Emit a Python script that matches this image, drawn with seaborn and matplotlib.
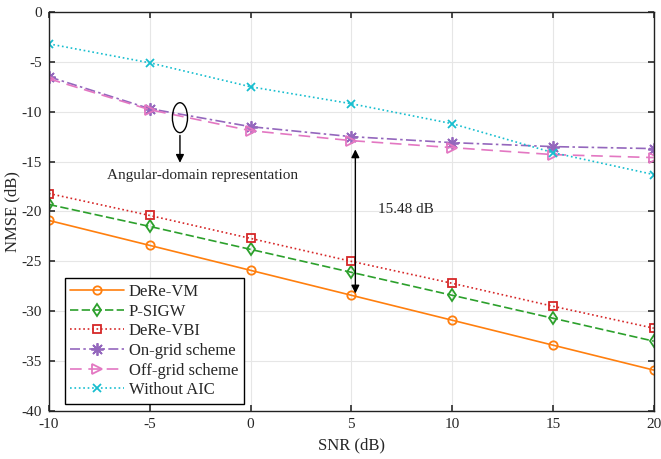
import matplotlib
matplotlib.use("Agg")
import matplotlib.pyplot as plt
import seaborn as sns
import pandas as pd
from matplotlib.patches import Ellipse

snr = [-10, -5, 0, 5, 10, 15, 20]
dere_vm = [-20.9, -23.4, -25.9, -28.4, -30.9, -33.4, -35.9]
p_sigw = [-19.3, -21.5, -23.8, -26.1, -28.4, -30.7, -33.0]
dere_vbi = [-18.2, -20.4, -22.7, -25.0, -27.2, -29.5, -31.7]
on_grid = [-6.5, -9.7, -11.5, -12.5, -13.1, -13.5, -13.7]
off_grid = [-6.7, -9.8, -11.9, -12.9, -13.6, -14.3, -14.6]
without_aic = [-3.2, -5.1, -7.5, -9.2, -11.2, -14.1, -16.3]

names = ["DeRe-VM", "P-SIGW", "DeRe-VBI", "On-grid scheme", "Off-grid scheme", "Without AIC"]
series = [dere_vm, p_sigw, dere_vbi, on_grid, off_grid, without_aic]

sns.set_theme(style="whitegrid")
plt.rcParams['font.family'] = ['Liberation Serif', 'DejaVu Serif']
plt.rcParams['axes.unicode_minus'] = False

colors = ['#ff7f0e', '#2ca02c', '#d62728', '#9467bd', '#e377c2', '#17becf']
markers = ['o', 'd', 's', (8, 2, 0), '>', 'x']
linestyles = ['-', (0, (5, 2)), ':', (0, (6, 2, 1.5, 2)), (0, (7, 4)), ':']
msizes = [6, 6, 6, 9, 7, 6]

fig = plt.figure(figsize=(6.61, 4.59), dpi=100)
ax = fig.add_axes([0.074, 0.1046, 0.915, 0.8694])

for name, vals, c, m, ls, ms in zip(names, series, colors, markers, linestyles, msizes):
    df = pd.DataFrame({"SNR": snr, "NMSE": vals})
    sns.lineplot(data=df, x="SNR", y="NMSE", ax=ax, color=c, marker=m,
                 linestyle=ls, linewidth=1.2, markersize=ms,
                 markerfacecolor='none', markeredgecolor=c, markeredgewidth=1.3,
                 label=name)

ax.set_xlim(-10, 20)
ax.set_ylim(-40, 0)
ax.set_xticks([-10, -5, 0, 5, 10, 15, 20])
ax.set_yticks(range(-40, 1, 5))
ax.set_xlabel("SNR (dB)", fontsize=12, labelpad=5)
ax.set_ylabel("NMSE (dB)", fontsize=12, labelpad=1)
ax.tick_params(axis='both', labelsize=11, direction='in', length=4, color='#333333',
               top=True, right=True, bottom=True, left=True, pad=5)
ax.grid(True, color='#e6e6e6', linewidth=0.8)
for sp in ax.spines.values():
    sp.set_color('#222222')
    sp.set_linewidth(1.0)

leg = ax.legend(loc='lower left', bbox_to_anchor=(0.026, 0.0175), borderaxespad=0,
                fontsize=12, fancybox=False, edgecolor='black', framealpha=1,
                borderpad=0.35, labelspacing=0.22, handlelength=3.2, handletextpad=0.3)
leg.get_frame().set_linewidth(1.0)

# Annotations
ax.add_patch(Ellipse((-3.5, -10.6), 0.75, 3.0, fill=False, edgecolor='black', linewidth=1.0, zorder=5))
ax.annotate("", xy=(-3.5, -15.4), xytext=(-3.5, -12.1),
            arrowprops=dict(arrowstyle='-|>', color='black', lw=1.0, mutation_scale=12))
ax.text(-2.4, -16.4, "Angular-domain representation", fontsize=11, ha='center', va='center')
ax.annotate("", xy=(5.2, -13.5), xytext=(5.2, -28.5),
            arrowprops=dict(arrowstyle='<|-|>', color='black', lw=1.0, mutation_scale=12))
ax.text(6.3, -19.85, "15.48 dB", fontsize=11, ha='left', va='center')

fig.savefig("out.png", dpi=100)
